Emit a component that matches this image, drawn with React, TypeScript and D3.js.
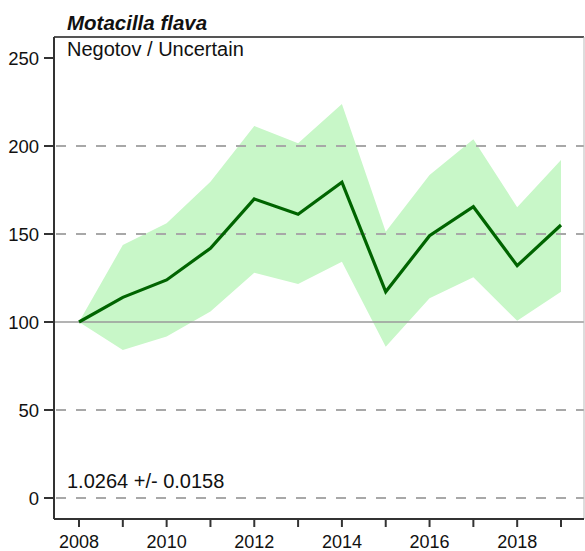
import React from "react";
import * as d3 from "d3";

const years = [2008, 2009, 2010, 2011, 2012, 2013, 2014, 2015, 2016, 2017, 2018, 2019];
const index = [100, 114, 123.9, 141.9, 169.9, 161.2, 179.4, 117.2, 149, 165.5, 132, 155.1];
const upper = [100, 143.7, 156.1, 179.7, 211.4, 201.5, 223.9, 151.3, 183.5, 203.8, 165.2, 192];
const lower = [100, 84.1, 91.7, 105.9, 128, 121.6, 134.3, 86, 113.5, 125.4, 100.7, 117.2];
const yTicks = [0, 50, 100, 150, 200, 250];
const dashedLines = [0, 50, 150, 200];
const xLabels = [2008, 2010, 2012, 2014, 2016, 2018];
const title = "Motacilla flava";
const subtitle = "Negotov / Uncertain";
const trendText = "1.0264 +/- 0.0158";

export default function App() {
  const W = 585, H = 551;
  const left = 54, right = 584, top = 37, bottom = 519;
  const x = d3.scaleLinear().domain([2008, 2019]).range([79, 561]);
  const y = d3.scaleLinear().domain([0, 250]).range([498, 58]);
  const font = "'Liberation Sans', Arial, sans-serif";

  const area = d3
    .area<number>()
    .x((_, i) => x(years[i]))
    .y0((_, i) => y(lower[i]))
    .y1((_, i) => y(upper[i]));
  const line = d3
    .line<number>()
    .x((_, i) => x(years[i]))
    .y((d) => y(d));

  return (
    <svg width={W} height={H} style={{ position: "absolute", left: 0, top: 0 }} fontFamily={font}>
      <rect width={W} height={H} fill="#fff" />
      <path d={area(upper) || ""} fill="#c8f7c8" />
      {dashedLines.map((v) => (
        <line key={v} x1={left} x2={right} y1={y(v)} y2={y(v)} stroke="#a8a8a8" strokeWidth={2} strokeDasharray="10,10" strokeDashoffset={-2} />
      ))}
      <line x1={left} x2={right} y1={y(100)} y2={y(100)} stroke="#9a9a9a" strokeWidth={1.5} />
      <path d={line(index) || ""} fill="none" stroke="#006400" strokeWidth={3.2} strokeLinejoin="miter" />
      {/* frame */}
      <line x1={left} x2={right} y1={top} y2={top} stroke="#555" strokeWidth={2} />
      <line x1={right} x2={right} y1={top} y2={bottom} stroke="#bbb" strokeWidth={1} />
      <line x1={left} x2={left} y1={top} y2={bottom} stroke="#333" strokeWidth={2} />
      <line x1={left} x2={right} y1={bottom} y2={bottom} stroke="#333" strokeWidth={2} />
      {yTicks.map((v) => (
        <g key={v}>
          <line x1={left - 10} x2={left} y1={y(v)} y2={y(v)} stroke="#333" strokeWidth={2} />
          <text x={39} y={y(v) + 7} textAnchor="end" fontSize={18.5} fill="#111">{v}</text>
        </g>
      ))}
      {years.map((yr) => (
        <line key={yr} x1={x(yr)} x2={x(yr)} y1={bottom} y2={bottom + 8} stroke="#333" strokeWidth={2} />
      ))}
      {xLabels.map((yr) => (
        <text key={yr} x={x(yr)} y={bottom + 29} textAnchor="middle" fontSize={18} fill="#111">{yr}</text>
      ))}
      <text x={67} y={30} fontSize={20.5} fontWeight="bold" fontStyle="italic" fill="#111">{title}</text>
      <text x={67} y={56} fontSize={20} fill="#111">{subtitle}</text>
      <text x={67} y={488} fontSize={20} fill="#111">{trendText}</text>
    </svg>
  );
}
